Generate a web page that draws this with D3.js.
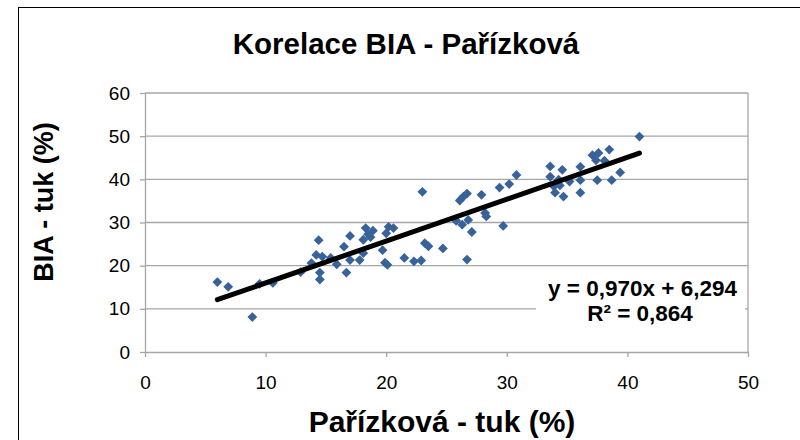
<!DOCTYPE html>
<html>
<head>
<meta charset="utf-8">
<script src="https://cdn.jsdelivr.net/npm/d3@7"></script>
<style>
  html, body { margin: 0; padding: 0; background: #fff; }
  svg { display: block; font-family: "Liberation Sans", Arial, sans-serif; }
</style>
</head>
<body>
<svg id="chart" width="800" height="440"></svg>
<script>
// Body fat (%) measured by the Pařízková method vs. bioimpedance (BIA)
const parizkova = [
  6.0, 6.9, 8.9, 9.5, 10.6, 12.9, 13.8, 14.4, 14.2, 14.7, 14.5, 14.5, 15.4, 15.9, 16.7,
  16.5, 17.0, 17.0, 17.8, 18.1, 18.3, 18.9, 18.7, 18.5, 18.1, 19.7, 19.9, 20.1, 20.2,
  20.6, 20.0, 21.5, 22.3, 22.9, 23.0, 23.2, 23.5, 24.7, 26.1, 26.4, 26.7, 27.9, 25.8,
  26.3, 26.8, 27.1, 28.2, 28.3, 29.7, 26.7, 29.4, 30.2, 30.8, 33.6, 33.6, 33.9, 34.0,
  34.3, 34.6, 34.7, 35.2, 36.1, 36.1, 36.1, 37.1, 37.6, 38.5, 37.4, 38.1, 37.5, 38.7,
  39.4, 41.0, 34.4
];
const bia = [
  16.2, 15.1, 8.1, 15.8, 16.0, 18.5, 20.6, 25.9, 22.5, 22.1, 18.4, 16.8, 21.8, 20.3, 18.4,
  24.4, 26.9, 21.3, 21.3, 26.0, 28.7, 28.1, 26.6, 27.3, 22.9, 23.6, 20.7, 20.2, 29.0,
  28.7, 27.5, 21.8, 21.0, 21.2, 37.1, 25.2, 24.5, 24.0, 35.1, 36.0, 36.7, 36.4, 30.4,
  29.5, 30.6, 27.8, 32.2, 31.4, 29.2, 21.4, 38.1, 38.9, 41.0, 43.0, 40.6, 38.4, 36.9,
  39.9, 42.2, 36.0, 39.5, 42.9, 39.8, 36.9, 45.6, 46.1, 46.9, 44.4, 44.3, 39.8, 39.8,
  41.6, 49.9, 38.6
];

// Linear trend line and its statistics
const slope = 0.970;
const intercept = 6.294;
const rSquared = 0.864;
const trendRange = [6.0, 41.0];

const xTicks = [0, 10, 20, 30, 40, 50];
const yTicks = [0, 10, 20, 30, 40, 50, 60];

const titleText = "Korelace BIA - Pařízková";
const xTitle = "Pařízková - tuk (%)";
const yTitle = "BIA - tuk (%)";

const fmt = v => v.toFixed(3).replace(".", ",");

const svg = d3.select("#chart");
const plot = { left: 145, right: 748, top: 93, bottom: 352 };

// Chart frame
svg.append("rect")
  .attr("x", 18.5).attr("y", 7.5)
  .attr("width", 820).attr("height", 460)
  .attr("fill", "#fff").attr("stroke", "#000").attr("stroke-width", 1);

const x = d3.scaleLinear().domain([0, 50]).range([plot.left, plot.right]);
const y = d3.scaleLinear().domain([0, 60]).range([plot.bottom, plot.top]);

const gridColor = "#a6a6a6";

// Horizontal gridlines
svg.append("g")
  .selectAll("line")
  .data(yTicks.filter(t => t > 0))
  .join("line")
  .attr("x1", plot.left).attr("x2", plot.right)
  .attr("y1", d => y(d)).attr("y2", d => y(d))
  .attr("stroke", gridColor).attr("stroke-width", 1.3);

// Right edge of plot area
svg.append("line")
  .attr("x1", plot.right).attr("x2", plot.right)
  .attr("y1", plot.top).attr("y2", plot.bottom)
  .attr("stroke", gridColor).attr("stroke-width", 1.3);

// Axes
const xAxis = svg.append("g")
  .attr("transform", `translate(0,${plot.bottom})`)
  .call(d3.axisBottom(x).tickValues(xTicks).tickSize(5).tickSizeOuter(0).tickPadding(19));
const yAxis = svg.append("g")
  .attr("transform", `translate(${plot.left},0)`)
  .call(d3.axisLeft(y).tickValues(yTicks).tickSize(5).tickSizeOuter(0).tickPadding(10));

[xAxis, yAxis].forEach(g => {
  g.select(".domain").attr("stroke", gridColor).attr("stroke-width", 1.3);
  g.selectAll(".tick line").attr("stroke", gridColor).attr("stroke-width", 1.3);
  g.selectAll(".tick text")
    .attr("fill", "#000")
    .style("font-size", "19px")
    .style("font-family", "'Liberation Sans', Arial, sans-serif");
});
xAxis.selectAll(".tick text").attr("dy", "0.71em");

// Data points (diamonds)
const diamond = d3.symbol().type(d3.symbolSquare).size(48);
svg.append("g")
  .selectAll("path")
  .data(parizkova.map((v, i) => [v, bia[i]]))
  .join("path")
  .attr("d", diamond)
  .attr("transform", d => `translate(${x(d[0])},${y(d[1])}) rotate(45)`)
  .attr("fill", "#37629a");

// Trend line
svg.append("line")
  .attr("x1", x(trendRange[0])).attr("y1", y(slope * trendRange[0] + intercept))
  .attr("x2", x(trendRange[1])).attr("y2", y(slope * trendRange[1] + intercept))
  .attr("stroke", "#000").attr("stroke-width", 5).attr("stroke-linecap", "round");

// Equation label with white background
svg.append("rect")
  .attr("x", 536).attr("y", 272).attr("width", 209).attr("height", 66)
  .attr("fill", "#fff");
const eq = svg.append("g")
  .attr("font-weight", "bold").attr("font-size", "22.5px").attr("fill", "#000");
eq.append("text")
  .attr("x", 737).attr("y", 296).attr("text-anchor", "end")
  .text(`y = ${fmt(slope)}x + ${fmt(intercept)}`);
eq.append("text")
  .attr("x", 640).attr("y", 321).attr("text-anchor", "middle")
  .text(`R² = ${fmt(rSquared)}`);

// Titles
svg.append("text")
  .attr("x", 406).attr("y", 54).attr("text-anchor", "middle")
  .attr("font-weight", "bold").attr("font-size", "29.5px")
  .text(titleText);
svg.append("text")
  .attr("x", 442).attr("y", 432).attr("text-anchor", "middle")
  .attr("font-weight", "bold").attr("font-size", "30px")
  .text(xTitle);
svg.append("text")
  .attr("transform", "translate(53,202) rotate(-90)")
  .attr("text-anchor", "middle")
  .attr("font-weight", "bold").attr("font-size", "27px")
  .text(yTitle);
</script>
</body>
</html>
